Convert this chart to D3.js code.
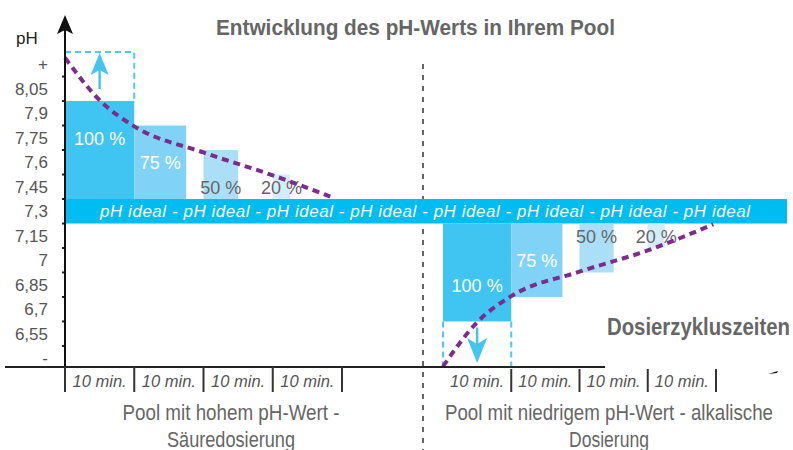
<!DOCTYPE html>
<html>
<head>
<meta charset="utf-8">
<script src="https://cdn.jsdelivr.net/npm/d3@7"></script>
<style>
body { margin: 0; background: #fff; }
svg { display: block; }
</style>
</head>
<body>
<div id="chartArea"></div>
<script>
// pH bands on the y axis (label + value)
const phLabels = ["+", "8,05", "7,9", "7,75", "7,6", "7,45", "7,3", "7,15", "7", "6,85", "6,7", "6,55", "-"];
const phLevels = [8.2, 8.05, 7.9, 7.75, 7.6, 7.45, 7.3, 7.15, 7, 6.85, 6.7, 6.55, 6.4];

// dosing cycles
const cycleLabels = ["10 min.", "10 min.", "10 min.", "10 min."];
const cycleStarts = [0, 10, 20, 30];
const dosingShare = ["100 %", "75 %", "50 %", "20 %"];
const dosingMinutes = [10, 7.5, 5, 2.5];

// ideal range
const idealLow = 7.225, idealHigh = 7.375;

// high pH -> acid dosing: bar tops
const highTops = [7.975, 7.825, 7.675, 7.525];
const highLabelPh = [7.75, 7.6, 7.45, 7.45];
const highStart = 8.275;
const highCurve = [[0, 8.24], [5, 7.98], [10, 7.82], [20, 7.66], [30, 7.52], [38.3, 7.39]];

// low pH -> alkaline dosing: bar bottoms
const lowBottoms = [6.625, 6.775, 6.925, 7.075];
const lowLabelPh = [6.85, 7, 7.15, 7.15];
const lowCurve = [[0, 6.35], [5, 6.62], [10, 6.78], [20, 6.93], [30, 7.06], [39.6, 7.22]];

const barColors = ["#40c4f1", "#80d3f6", "#abdff8", "#d3eefb"];
const labelColors = ["#ffffff", "#ffffff", "#666666", "#666666"];

function renderChart(){
const W = 793, H = 450;
const axisX = 65, baseY = 367;
const sans = "'Liberation Sans', Arial, Helvetica, sans-serif";

const svg = d3.select("#chartArea").append("svg")
  .attr("width", W).attr("height", H);

const y = d3.scaleLinear().domain([6.4, 8.2]).range([358.2, 64.3]);
const xHigh = d3.scaleLinear().domain([0, 40]).range([axisX, 342]);
const xLow = d3.scaleLinear().domain([0, 40]).range([443, 716]);

// condensed look: squeeze the glyphs to the width seen in the picture
function narrowText(x, yPos, anchor, size, weight, width, txt){
  return svg.append("text")
    .attr("x", x).attr("y", yPos)
    .attr("text-anchor", anchor)
    .attr("textLength", width).attr("lengthAdjust", "spacingAndGlyphs")
    .style("font-family", sans)
    .style("font-weight", weight)
    .style("font-size", size + "px")
    .style("fill", "#666")
    .text(txt);
}

// title
narrowText(216, 35, "start", 22, "bold", 399, "Entwicklung des pH-Werts in Ihrem Pool");

// separator between the two cases
svg.append("line")
  .attr("x1", 423).attr("x2", 423)
  .attr("y1", 64).attr("y2", H)
  .attr("stroke", "#666").attr("stroke-width", 2)
  .attr("stroke-dasharray", "5,6");

// ideal band
svg.append("rect")
  .attr("x", axisX).attr("width", 787 - axisX)
  .attr("y", y(idealHigh)).attr("height", y(idealLow) - y(idealHigh))
  .attr("fill", "#00bdf1");

svg.append("text")
  .attr("x", 100).attr("y", (y(idealHigh) + y(idealLow)) / 2 + 6)
  .attr("textLength", 650).attr("lengthAdjust", "spacing")
  .style("font-family", sans)
  .style("font-style", "italic")
  .style("font-size", "17px")
  .style("fill", "#fff")
  .text(d3.range(8).map(() => "pH ideal").join(" - "));

// high pH bars
svg.selectAll(".barHigh")
  .data(highTops)
  .enter().append("rect")
  .attr("x", (d, i) => xHigh(cycleStarts[i]))
  .attr("width", (d, i) => xHigh(cycleStarts[i] + dosingMinutes[i]) - xHigh(cycleStarts[i]))
  .attr("y", d => y(d))
  .attr("height", d => y(idealHigh) - y(d))
  .attr("fill", (d, i) => barColors[i]);

// low pH bars
svg.selectAll(".barLow")
  .data(lowBottoms)
  .enter().append("rect")
  .attr("x", (d, i) => xLow(cycleStarts[i]))
  .attr("width", (d, i) => xLow(cycleStarts[i] + dosingMinutes[i]) - xLow(cycleStarts[i]))
  .attr("y", y(idealLow))
  .attr("height", d => y(d) - y(idealLow))
  .attr("fill", (d, i) => barColors[i]);

// percentage labels
svg.selectAll(".pctHigh")
  .data(dosingShare)
  .enter().append("text")
  .attr("x", (d, i) => xHigh(cycleStarts[i] + dosingMinutes[i] / 2))
  .attr("y", (d, i) => y(highLabelPh[i]) + 7)
  .attr("text-anchor", "middle")
  .style("font-family", sans).style("font-size", "18px")
  .style("fill", (d, i) => labelColors[i])
  .text(d => d);

svg.selectAll(".pctLow")
  .data(dosingShare)
  .enter().append("text")
  .attr("x", (d, i) => xLow(cycleStarts[i] + dosingMinutes[i] / 2))
  .attr("y", (d, i) => y(lowLabelPh[i]) + 7)
  .attr("text-anchor", "middle")
  .style("font-family", sans).style("font-size", "18px")
  .style("fill", (d, i) => labelColors[i])
  .text(d => d);

// dashed boxes + arrows
const boxColor = "#4ccaf3";
svg.append("path")
  .attr("d", `M${xHigh(0)},${y(highStart)}H${xHigh(10)}V${y(highTops[0])}`)
  .attr("fill", "none").attr("stroke", boxColor)
  .attr("stroke-width", 2).attr("stroke-dasharray", "6,4");

svg.append("path")
  .attr("d", `M${xLow(0)},${y(lowBottoms[0])}V${baseY}M${xLow(10)},${y(lowBottoms[0])}V${baseY}`)
  .attr("fill", "none").attr("stroke", boxColor)
  .attr("stroke-width", 2).attr("stroke-dasharray", "6,4");

const arrowColor = "#44c5f0";
const upX = xHigh(5), upTip = y(highStart) + 1, upBase = y(highTops[0]) - 12;
svg.append("line")
  .attr("x1", upX).attr("x2", upX)
  .attr("y1", upBase).attr("y2", upTip + 10)
  .attr("stroke", arrowColor).attr("stroke-width", 2.5);
svg.append("path")
  .attr("d", `M${upX},${upTip}L${upX + 9},${upTip + 22}L${upX},${upTip + 17}L${upX - 9},${upTip + 22}Z`)
  .attr("fill", arrowColor);

const dnX = xLow(5), dnTip = baseY - 4, dnBase = y(lowBottoms[0]) + 6;
svg.append("line")
  .attr("x1", dnX).attr("x2", dnX)
  .attr("y1", dnBase).attr("y2", dnTip - 10)
  .attr("stroke", arrowColor).attr("stroke-width", 2.5);
svg.append("path")
  .attr("d", `M${dnX},${dnTip}L${dnX + 10},${dnTip - 25}L${dnX},${dnTip - 19}L${dnX - 10},${dnTip - 25}Z`)
  .attr("fill", arrowColor);

// dotted pH curves
const lineHigh = d3.line()
  .x(d => xHigh(d[0])).y(d => y(d[1]))
  .curve(d3.curveMonotoneX);
const lineLow = d3.line()
  .x(d => xLow(d[0])).y(d => y(d[1]))
  .curve(d3.curveMonotoneX);

svg.append("path")
  .attr("d", lineHigh(highCurve))
  .attr("fill", "none").attr("stroke", "#7f2a8d")
  .attr("stroke-width", 4).attr("stroke-dasharray", "7,5");
svg.append("path")
  .attr("d", lineLow(lowCurve))
  .attr("fill", "none").attr("stroke", "#7f2a8d")
  .attr("stroke-width", 4).attr("stroke-dasharray", "7,5");

// y axis
const yAxis = svg.append("g")
  .attr("transform", `translate(${axisX},0)`)
  .call(d3.axisLeft(y)
    .tickValues(phLevels)
    .tickFormat((d, i) => phLabels[i])
    .tickSize(0)
    .tickPadding(17));
yAxis.select(".domain").remove();
yAxis.selectAll("text")
  .style("font-family", sans)
  .style("font-size", "17px")
  .style("fill", "#555");

// tick marks between the bands
svg.selectAll(".yTick")
  .data(d3.pairs(phLevels))
  .enter().append("line")
  .attr("x1", axisX - 3).attr("x2", axisX)
  .attr("y1", d => y((d[0] + d[1]) / 2)).attr("y2", d => y((d[0] + d[1]) / 2))
  .attr("stroke", "#222").attr("stroke-width", 2);

svg.append("line")
  .attr("x1", axisX).attr("x2", axisX)
  .attr("y1", 28).attr("y2", baseY)
  .attr("stroke", "#111").attr("stroke-width", 2);
svg.append("path")
  .attr("d", `M${axisX},15L${axisX + 8},34L${axisX},30L${axisX - 8},34Z`)
  .attr("fill", "#111");

svg.append("text")
  .attr("x", 16).attr("y", 44)
  .style("font-family", sans)
  .style("font-size", "17px")
  .style("fill", "#222")
  .text("pH");

// x axis
svg.append("line")
  .attr("x1", 5).attr("x2", 605)
  .attr("y1", baseY).attr("y2", baseY)
  .attr("stroke", "#222").attr("stroke-width", 2);
svg.append("path")
  .attr("d", "M768,374L778,371L777,373Z")
  .attr("fill", "#111");

// cycle separators
svg.selectAll(".sepHigh")
  .data([0, 10, 20, 30, 40])
  .enter().append("line")
  .attr("x1", d => xHigh(d)).attr("x2", d => xHigh(d))
  .attr("y1", baseY).attr("y2", 392)
  .attr("stroke", "#333").attr("stroke-width", 2);
svg.selectAll(".sepLow")
  .data([10, 20, 30, 40])
  .enter().append("line")
  .attr("x1", d => xLow(d)).attr("x2", d => xLow(d))
  .attr("y1", baseY + 2).attr("y2", 392)
  .attr("stroke", "#333").attr("stroke-width", 2);

// cycle labels
svg.selectAll(".cycHigh")
  .data(cycleLabels)
  .enter().append("text")
  .attr("x", (d, i) => xHigh(cycleStarts[i] + 5))
  .attr("y", 387)
  .attr("text-anchor", "middle")
  .style("font-family", sans).style("font-style", "italic")
  .style("font-size", "16.5px").style("fill", "#555")
  .text(d => d);
svg.selectAll(".cycLow")
  .data(cycleLabels)
  .enter().append("text")
  .attr("x", (d, i) => xLow(cycleStarts[i] + 5))
  .attr("y", 387)
  .attr("text-anchor", "middle")
  .style("font-family", sans).style("font-style", "italic")
  .style("font-size", "16.5px").style("fill", "#555")
  .text(d => d);

// group captions
const captions = [
  { x: 231, lines: ["Pool mit hohem pH-Wert -", "Säuredosierung"], widths: [217, 128] },
  { x: 609, lines: ["Pool mit niedrigem pH-Wert - alkalische", "Dosierung"], widths: [328, 80] }
];
captions.forEach(c => {
  c.lines.forEach((t, i) => {
    narrowText(c.x, 420 + i * 27, "middle", 22, "normal", c.widths[i], t);
  });
});

narrowText(790, 335, "end", 23, "bold", 183, "Dosierzykluszeiten");
}

renderChart();
</script>
</body>
</html>
